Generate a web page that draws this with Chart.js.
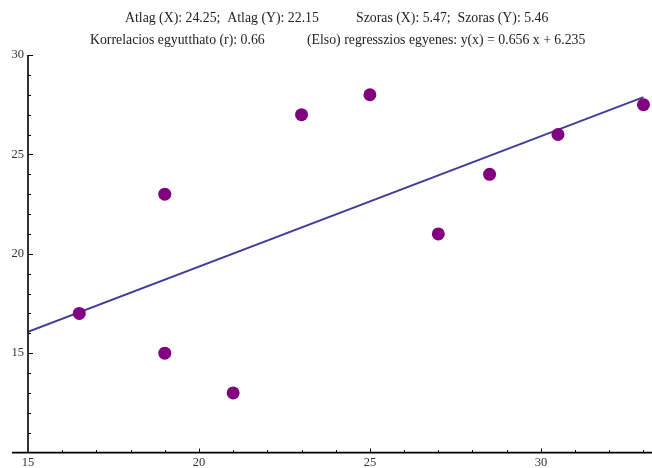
<!DOCTYPE html>
<html><head><meta charset="utf-8">
<script src="https://cdn.jsdelivr.net/npm/chart.js@4/dist/chart.umd.min.js"></script>
<style>html,body{margin:0;padding:0;background:#fff}#wrap{width:652px;height:468px}</style>
</head><body><div id="wrap"><canvas id="c" width="652" height="468"></canvas></div>
<script>
const pointsX = [16.5, 19, 19, 21, 23, 25, 27, 28.5, 30.5, 33];
const pointsY = [17, 23, 15, 13, 27, 28, 21, 24, 26, 27.5];
const lineX = [15, 33];
const lineY = [16.075, 27.883];
const xTickLabels = [15, 20, 25, 30];
const yTickLabels = [15, 20, 25, 30];
const titleLine1 = ["Atlag (X): 24.25;  Atlag (Y): 22.15", "Szoras (X): 5.47;  Szoras (Y): 5.46"];
const titleLine2 = ["Korrelacios egyutthato (r): 0.66", "(Elso) regresszios egyenes: y(x) = 0.656 x + 6.235"];

const serif = "'Liberation Serif', 'DejaVu Serif', serif";

const axesPlugin = {
  id: 'axesPlugin',
  afterDatasetsDraw(chart) {
    const ctx = chart.ctx, xs = chart.scales.x, ys = chart.scales.y;
    const x0 = xs.getPixelForValue(15), y0 = ys.getPixelForValue(10);
    ctx.save();
    ctx.strokeStyle = '#000';
    ctx.lineWidth = 1.6;
    ctx.beginPath();
    ctx.moveTo(xs.getPixelForValue(14.53), y0); ctx.lineTo(chart.chartArea.right, y0);
    ctx.moveTo(x0, y0); ctx.lineTo(x0, ys.getPixelForValue(30));
    ctx.stroke();
    ctx.lineWidth = 1;
    ctx.beginPath();
    for (let v = 16; v <= 33; v++) {
      const p = Math.round(xs.getPixelForValue(v)) + 0.5;
      const len = v % 5 === 0 ? 4 : 2.5;
      ctx.moveTo(p, y0); ctx.lineTo(p, y0 - len);
    }
    for (let v = 11; v <= 30; v++) {
      const p = Math.round(ys.getPixelForValue(v)) + 0.5;
      const len = v % 5 === 0 ? 5 : 3;
      ctx.moveTo(x0, p); ctx.lineTo(x0 + len, p);
    }
    ctx.stroke();
    ctx.restore();
  }
};

const titlePlugin = {
  id: 'titlePlugin',
  afterDraw(chart) {
    const ctx = chart.ctx;
    ctx.save();
    ctx.font = "13.8px " + serif;
    ctx.fillStyle = '#222';
    ctx.textBaseline = 'alphabetic';
    ctx.textAlign = 'left';
    ctx.fillText(titleLine1[0], 125, 22);
    ctx.fillText(titleLine1[1], 356, 22);
    ctx.fillText(titleLine2[0], 90, 44);
    ctx.fillText(titleLine2[1], 307, 44);
    ctx.restore();
  }
};

new Chart(document.getElementById('c'), {
  type: 'scatter',
  data: {
    datasets: [
      {
        type: 'line',
        data: lineX.map((x, i) => ({x, y: lineY[i]})),
        borderColor: 'rgb(61,61,153)',
        borderWidth: 1.8,
        pointRadius: 0,
        fill: false,
        order: 2
      },
      {
        data: pointsX.map((x, i) => ({x, y: pointsY[i]})),
        backgroundColor: 'rgb(128,0,128)',
        borderWidth: 0,
        pointRadius: 6.5,
        pointHoverRadius: 6.5,
        order: 1
      }
    ]
  },
  options: {
    responsive: false,
    animation: false,
    events: [],
    layout: { autoPadding: false, padding: { left: 0, right: 0, top: 55, bottom: 0 } },
    plugins: { legend: { display: false }, tooltip: { enabled: false }, title: { display: false } },
    scales: {
      x: {
        type: 'linear', min: 15, max: 33.25,
        grid: { display: false, drawTicks: false },
        border: { display: false },
        afterBuildTicks(s) { s.ticks = xTickLabels.map(v => ({value: v})); },
        afterFit(s) { s.height = 15.4; },
        ticks: { font: { family: serif, size: 12.5 }, color: '#333', padding: 3, maxRotation: 0, autoSkip: false }
      },
      y: {
        type: 'linear', min: 10, max: 30,
        position: 'left',
        grid: { display: false, drawTicks: false },
        border: { display: false },
        afterBuildTicks(s) { s.ticks = yTickLabels.map(v => ({value: v})); },
        afterFit(s) { s.width = 28; },
        ticks: { font: { family: serif, size: 12.5 }, color: '#333', padding: 4, autoSkip: false }
      }
    }
  },
  plugins: [axesPlugin, titlePlugin]
});
</script></body></html>
